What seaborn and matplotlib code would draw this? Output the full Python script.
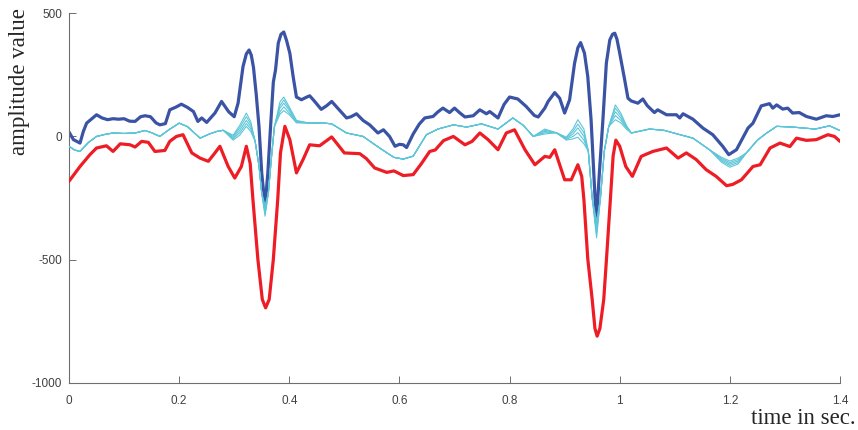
import numpy as np
import pandas as pd
import seaborn as sns
import matplotlib
matplotlib.use("Agg")
import matplotlib.pyplot as plt

# thick dark blue trace
t_blue = [0.000, 0.008, 0.020, 0.026, 0.032, 0.050, 0.060, 0.070, 0.080, 0.090,
          0.100, 0.110, 0.120, 0.130, 0.138, 0.148, 0.158, 0.165, 0.175, 0.183,
          0.195, 0.204, 0.215, 0.226, 0.234, 0.241, 0.250, 0.265, 0.277, 0.290,
          0.300, 0.307, 0.316, 0.322, 0.327, 0.331, 0.335, 0.340, 0.345, 0.350,
          0.356, 0.361, 0.366, 0.371, 0.375, 0.380, 0.385, 0.390, 0.395, 0.401,
          0.407, 0.413, 0.422, 0.430, 0.437, 0.445, 0.458, 0.468, 0.477, 0.490,
          0.504, 0.512, 0.522, 0.534, 0.546, 0.561, 0.571, 0.582, 0.592, 0.600,
          0.607, 0.613, 0.625, 0.636, 0.646, 0.661, 0.670, 0.679, 0.691, 0.700,
          0.710, 0.719, 0.734, 0.746, 0.758, 0.764, 0.779, 0.790, 0.800, 0.815,
          0.830, 0.845, 0.852, 0.864, 0.870, 0.882, 0.891, 0.900, 0.909, 0.918,
          0.924, 0.929, 0.936, 0.942, 0.948, 0.953, 0.9575, 0.963, 0.9695, 0.9757,
          0.982, 0.987, 0.991, 0.995, 1.000, 1.009, 1.015, 1.021, 1.033, 1.042,
          1.050, 1.063, 1.069, 1.085, 1.103, 1.109, 1.115, 1.133, 1.151, 1.169,
          1.187, 1.198, 1.212, 1.233, 1.242, 1.257, 1.272, 1.278, 1.285, 1.296,
          1.305, 1.314, 1.326, 1.339, 1.357, 1.375, 1.387, 1.400]
blue = [18, -13, -27, 20, 54, 88, 75, 68, 72, 70,
        72, 62, 61, 80, 84, 80, 55, 47, 52, 108,
        120, 131, 118, 101, 61, 75, 57, 95, 142, 100,
        80, 135, 284, 335, 351, 330, 280, 170, 40, -150,
        -284, -150, 40, 220, 270, 379, 415, 424, 390, 338,
        243, 160, 149, 158, 165, 145, 110, 125, 142, 110,
        75, 80, 92, 65, 47, 14, 27, 0, -40, -32,
        -34, -45, 10, 50, 75, 81, 100, 115, 97, 115,
        95, 79, 84, 108, 92, 101, 75, 130, 160, 152,
        122, 85, 79, 115, 142, 178, 155, 95, 149, 297,
        360, 381, 338, 243, 68, -150, -351, -150, 68, 297,
        392, 415, 419, 395, 338, 230, 155, 144, 135, 152,
        125, 97, 108, 88, 88, 75, 92, 70, 34, 7,
        -40, -74, -54, 34, 54, 124, 133, 115, 128, 111,
        115, 95, 97, 81, 70, 84, 81, 88]

# thick red trace
t_red = [0.000, 0.020, 0.038, 0.050, 0.068, 0.080, 0.093, 0.111, 0.120, 0.132,
         0.144, 0.156, 0.174, 0.183, 0.195, 0.207, 0.223, 0.238, 0.253, 0.265,
         0.274, 0.289, 0.301, 0.313, 0.322, 0.329, 0.334, 0.343, 0.351, 0.357,
         0.3635, 0.371, 0.379, 0.384, 0.392, 0.401, 0.413, 0.425, 0.437, 0.455,
         0.477, 0.500, 0.528, 0.540, 0.555, 0.577, 0.590, 0.607, 0.625, 0.640,
         0.655, 0.665, 0.680, 0.698, 0.719, 0.732, 0.746, 0.761, 0.779, 0.794,
         0.809, 0.828, 0.846, 0.864, 0.873, 0.882, 0.900, 0.912, 0.924, 0.931,
         0.935, 0.942, 0.950, 0.955, 0.959, 0.964, 0.971, 0.976, 0.983, 0.988,
         0.993, 1.000, 1.011, 1.023, 1.039, 1.060, 1.085, 1.106, 1.121, 1.139,
         1.157, 1.175, 1.194, 1.205, 1.221, 1.242, 1.255, 1.273, 1.291, 1.309,
         1.321, 1.339, 1.357, 1.378, 1.390, 1.400]
red = [-182, -122, -74, -47, -38, -61, -30, -34, -43, -20,
       -24, -61, -57, -20, 0, 7, -67, -88, -101, -67,
       -40, -122, -169, -122, -40, -110, -257, -500, -662, -696,
       -662, -500, -257, -67, 41, -13, -148, -94, -34, -38,
       -2, -67, -70, -90, -128, -146, -140, -159, -155, -110,
       -61, -55, -17, 0, -34, -20, 14, -13, -54, 14,
       27, -54, -115, -81, -85, -54, -176, -176, -115, -162,
       -257, -497, -662, -780, -811, -780, -662, -497, -257, -80,
       -15, -40, -122, -162, -81, -61, -47, -88, -67, -94,
       -135, -162, -200, -195, -176, -122, -115, -47, -27, -41,
       -7, -16, -13, 7, 0, -20]

# thin cyan traces: shared course plus per-trace values around the spikes
t_cyan = [0.000, 0.010, 0.020, 0.035, 0.050, 0.065, 0.080, 0.100, 0.120, 0.138,
          0.150, 0.165, 0.180, 0.200, 0.215, 0.238, 0.255, 0.268, 0.280, 0.298,
          0.310, 0.322, 0.330, 0.338, 0.345, 0.350, 0.356, 0.362, 0.367, 0.373,
          0.383, 0.390, 0.400, 0.413, 0.437, 0.460, 0.477, 0.504, 0.534, 0.564,
          0.590, 0.607, 0.625, 0.649, 0.670, 0.698, 0.722, 0.749, 0.779, 0.806,
          0.825, 0.843, 0.864, 0.885, 0.903, 0.915, 0.924, 0.935, 0.943, 0.950,
          0.958, 0.965, 0.972, 0.980, 0.992, 1.002, 1.012, 1.021, 1.054, 1.080,
          1.103, 1.133, 1.163, 1.185, 1.200, 1.215, 1.230, 1.250, 1.267, 1.285,
          1.314, 1.355, 1.381, 1.400]
cyan_common = [-40, -55, -61, -25, 0, 8, 14, 12, 14, 24,
               15, 0, 25, 54, 40, -7, 10, 20, 25, 0,
               40, 95, 50, -20, -120, -230, -324, -230, -100, 40,
               140, 160, 120, 61, 54, 55, 51, 14, 0, -47,
               -85, -92, -80, 7, 30, 47, 38, 51, 30, 75,
               45, 0, 27, 15, -13, 20, 68, 20, -60, -250,
               -412, -250, -60, 40, 128, 90, 40, 14, 30, 25,
               11, -7, -54, -95, -115, -100, -67, -15, 14, 41,
               38, 30, 43, 24]
cyan_spikes = {
    0.298: [5, 0, -5, -10, -15],
    0.310: [45, 35, 25, 15, 5],
    0.322: [95, 80, 65, 52, 41],
    0.330: [60, 50, 40, 30, 20],
    0.356: [-280, -292, -304, -315, -324],
    0.383: [140, 125, 115, 100, 90],
    0.390: [160, 148, 135, 120, 105],
    0.400: [120, 112, 105, 95, 88],
    0.413: [65, 62, 60, 58, 55],
    0.864: [30, 25, 20, 15, 10],
    0.903: [-3, -6, -9, -12, -15],
    0.915: [30, 20, 10, 0, -10],
    0.924: [68, 50, 35, 15, -3],
    0.935: [30, 15, 0, -15, -30],
    0.958: [-345, -360, -378, -395, -412],
    0.992: [128, 115, 100, 85, 68],
    1.002: [95, 85, 75, 65, 55],
    1.012: [45, 42, 38, 35, 30],
    1.185: [-85, -90, -95, -100, -105],
    1.200: [-100, -106, -112, -118, -125],
    1.215: [-88, -94, -100, -106, -112],
}

x_ticks = [0, 0.2, 0.4, 0.6, 0.8, 1, 1.2, 1.4]
x_tick_labels = ["0", "0.2", "0.4", "0.6", "0.8", "1", "1.2", "1.4"]
y_ticks = [-1000, -500, 0, 500]

# long table for the cyan traces
rows = []
for k in range(5):
    for t, v in zip(t_cyan, cyan_common):
        rows.append({"t": t, "v": cyan_spikes[t][k] if t in cyan_spikes else v, "trace": k})
df_cyan = pd.DataFrame(rows)

sns.set_style("white")
plt.rcParams["axes.unicode_minus"] = False
plt.rcParams["font.family"] = ["Liberation Sans", "DejaVu Sans"]

fig = plt.figure(figsize=(8.58, 4.30), dpi=100)
ax = fig.add_axes([69 / 858, 47.3 / 430, 771 / 858, 369.4 / 430])

thick = dict(linewidth=2.3, estimator=None, sort=False, ax=ax,
             solid_joinstyle="round", solid_capstyle="round")
sns.lineplot(x=t_blue, y=blue, color="#3a53a4", zorder=2, **thick)
sns.lineplot(data=df_cyan, x="t", y="v", units="trace", estimator=None, sort=False,
             color="#5dc6d8", linewidth=0.8, ax=ax, zorder=3)
sns.lineplot(x=t_red, y=red, color="#ee1c25", zorder=4, **thick)

ax.set_xlim(0, 1.4)
ax.set_ylim(-1000, 500)
ax.set_xticks(x_ticks)
ax.set_xticklabels(x_tick_labels)
ax.set_yticks(y_ticks)
ax.set_xlabel("")
ax.set_ylabel("")

for side in ["top", "right"]:
    ax.spines[side].set_visible(False)
for side in ["left", "bottom"]:
    ax.spines[side].set_color("#6e6e6e")
    ax.spines[side].set_linewidth(0.8)

ax.tick_params(axis="both", direction="in", length=5, width=0.7, color="#6e6e6e",
               labelcolor="#404040", labelsize=8.5, bottom=True, left=True)
ax.tick_params(axis="x", pad=9)
ax.tick_params(axis="y", pad=5)

fig.text(20 / 858, 1 - 81.5 / 430, "amplitude value", rotation=90, ha="center",
         va="center", fontsize=16.5, family=["Liberation Serif", "DejaVu Serif"])
fig.text(856 / 858, 1 - 424 / 430, "time in sec.", ha="right", va="baseline",
         fontsize=16.5, family=["Liberation Serif", "DejaVu Serif"])

fig.savefig("out.png", dpi=100)
